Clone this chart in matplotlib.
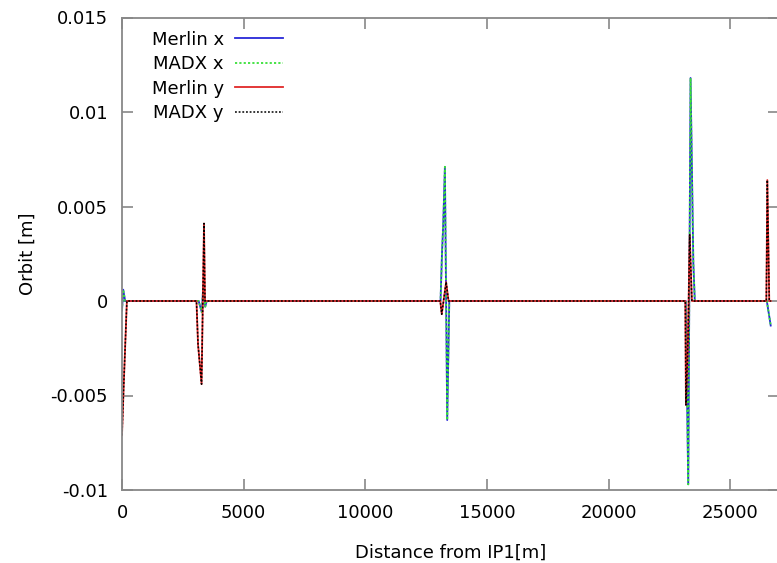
import matplotlib
matplotlib.use("Agg")
import matplotlib.pyplot as plt

# ---- data ----
# horizontal orbit (Merlin x / MADX x)
s_x = [0, 50, 130, 3150, 3280, 3340, 3420, 3480,
       13090, 13150, 13200, 13270, 13365, 13450,
       23170, 23270, 23365, 23480, 23540, 26500, 26659]
merlin_x = [-0.0005, 0.0006, 0.0, 0.0, -0.0006, 0.0008, -0.0003, 0.0,
            0.0, 0.0025, 0.0040, 0.0071, -0.0063, 0.0,
            0.0, -0.0097, 0.0118, 0.0020, 0.0, 0.0, -0.0013]
madx_x = [-0.0005, 0.0006, 0.0, 0.0, -0.0006, 0.0008, -0.0003, 0.0,
          0.0, 0.0025, 0.0040, 0.0071, -0.0063, 0.0,
          0.0, -0.0097, 0.0118, 0.0020, 0.0, 0.0, -0.0013]

# vertical orbit (Merlin y / MADX y)
s_y = [0, 70, 200, 3060, 3125, 3270, 3370, 3410,
       13080, 13140, 13320, 13420,
       23150, 23175, 23260, 23330, 23420,
       26480, 26520, 26600, 26659]
merlin_y = [-0.0071, -0.0045, 0.0, 0.0, -0.0023, -0.0044, 0.0041, 0.0,
            0.0, -0.0007, 0.0010, 0.0,
            0.0, -0.0055, -0.0020, 0.0035, 0.0,
            0.0, 0.0064, 0.0, 0.0]
madx_y = [-0.0071, -0.0045, 0.0, 0.0, -0.0023, -0.0044, 0.0041, 0.0,
          0.0, -0.0007, 0.0010, 0.0,
          0.0, -0.0055, -0.0020, 0.0035, 0.0,
          0.0, 0.0064, 0.0, 0.0]

x_ticks = [0, 5000, 10000, 15000, 20000, 25000]
y_ticks = [-0.01, -0.005, 0, 0.005, 0.01, 0.015]
y_ticklabels = ["-0.01", "-0.005", "0", "0.005", "0.01", "0.015"]

# ---- figure ----
plt.rcParams['font.family'] = ['DejaVu Sans']
W, H = 777, 563
fig = plt.figure(figsize=(W / 100, H / 100), dpi=100)
left, right, bottom, top = 122, 779, 490, 17.5
ax = fig.add_axes([left / W, (H - bottom) / H, (right - left) / W, (bottom - top) / H])

ax.plot(s_x, merlin_x, color='#2828d8', lw=1.3, label='Merlin x')
ax.plot(s_x, madx_x, color='#38e038', lw=1.3, ls=(0, (1.2, 1.2)), label='MADX x')
ax.plot(s_y, merlin_y, color='#e02828', lw=1.3, label='Merlin y')
ax.plot(s_y, madx_y, color='black', lw=1.1, ls=(0, (1.2, 1.2)), label='MADX y')

ax.set_xlim(0, 27000)
ax.set_ylim(-0.01, 0.015)
ax.set_xticks(x_ticks)
ax.set_xticklabels([str(t) for t in x_ticks])
ax.set_yticks(y_ticks)
ax.set_yticklabels(y_ticklabels)

for sp in ax.spines.values():
    sp.set_color('#888888')
    sp.set_linewidth(1.3)
ax.tick_params(direction='in', length=8, width=1.2, color='#888888',
               top=True, right=True, labelsize=13, pad=10)

ax.set_xlabel('Distance from IP1[m]', fontsize=13, labelpad=16)
ax.set_ylabel('Orbit [m]', fontsize=13, labelpad=10)

leg = ax.legend(loc='upper left', bbox_to_anchor=(0.045, 0.972), frameon=False,
                markerfirst=False, fontsize=13, handlelength=2.7,
                handletextpad=0.6, labelspacing=0.36, borderpad=0, borderaxespad=0)

fig.savefig('out.png', dpi=100)
